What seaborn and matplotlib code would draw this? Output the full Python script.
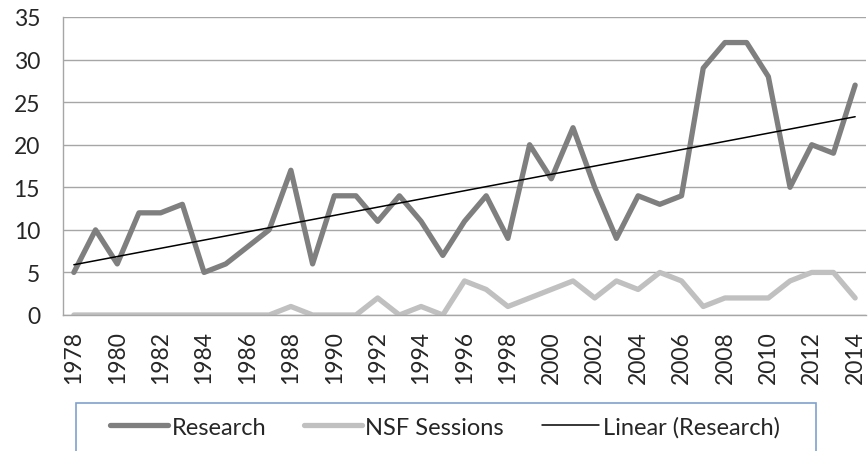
import numpy as np
import pandas as pd
import matplotlib
matplotlib.use("Agg")
import matplotlib.pyplot as plt
from matplotlib.patches import Rectangle
import seaborn as sns

# =========================
# dados
# =========================
anos = list(range(1978, 2015))

research = [5, 10, 6, 12, 12, 13, 5, 6, 8, 10,
            17, 6, 14, 14, 11, 14, 11, 7, 11, 14,
            9, 20, 16, 22, 15, 9, 14, 13, 14, 29,
            32, 32, 28, 15, 20, 19, 27]

nsf_sessions = [0, 0, 0, 0, 0, 0, 0, 0, 0, 0,
                1, 0, 0, 0, 2, 0, 1, 0, 4, 3,
                1, 2, 3, 4, 2, 4, 3, 5, 4, 1,
                2, 2, 2, 4, 5, 5, 2]

yticks = [0, 5, 10, 15, 20, 25, 30, 35]

df = pd.DataFrame({
    "idx": np.arange(len(anos)),
    "ano": anos,
    "Research": research,
    "NSF Sessions": nsf_sessions,
})

# tendencia linear (Research)
coef = np.polyfit(df["idx"], df["Research"], 1)
df["Linear (Research)"] = np.polyval(coef, df["idx"])

# =========================
# estilo
# =========================
sns.set_style("white")
plt.rcParams["font.family"] = ["Lato", "DejaVu Sans"]

cinza_grade = "#a6a6a6"

fig = plt.figure(figsize=(8.68, 4.52), dpi=100)
ax = fig.add_axes([63 / 868, 136 / 452, 803 / 868, 298 / 452])

sns.lineplot(data=df, x="idx", y="Research", ax=ax, color="#7f7f7f",
             linewidth=3.8, label="Research", legend=False)
sns.lineplot(data=df, x="idx", y="NSF Sessions", ax=ax, color="#c0c0c0",
             linewidth=3.8, label="NSF Sessions", legend=False)
sns.lineplot(data=df, x="idx", y="Linear (Research)", ax=ax, color="black",
             linewidth=1.1, label="Linear (Research)", legend=False)

# =========================
# eixos
# =========================
ax.set_xlim(-0.5, len(anos) - 0.5)
ax.set_ylim(0, 35)
ax.set_yticks(yticks)
ax.set_yticklabels([str(v) for v in yticks], fontsize=16.5)

ax.set_xticks(df["idx"][::2])
ax.set_xticklabels([str(a) for a in anos[::2]], rotation=90, fontsize=16.5)
ax.set_xticks(np.arange(-0.5, len(anos), 1), minor=True)
ax.tick_params(axis="x", which="major", length=0, pad=11)
ax.tick_params(axis="x", which="minor", length=5.5, color=cinza_grade, width=1)
ax.tick_params(axis="y", length=5.5, color=cinza_grade, width=1, pad=11)

ax.set_xlabel("")
ax.set_ylabel("")

ax.grid(axis="y", color=cinza_grade, linewidth=1)
ax.set_axisbelow(True)
for lado in ["top", "right"]:
    ax.spines[lado].set_visible(False)
for lado in ["left", "bottom"]:
    ax.spines[lado].set_color(cinza_grade)
    ax.spines[lado].set_linewidth(1)

# =========================
# legenda
# =========================
fig.patches.append(Rectangle((76 / 868, -0.05), 740 / 868, 0.05 + 48 / 452,
                             transform=fig.transFigure, fill=False,
                             edgecolor="#7fa1d0", linewidth=1.2))

handles, labels = ax.get_legend_handles_labels()
fig.legend(handles, labels, loc="center left",
           bbox_to_anchor=(110 / 868, 1 - 428 / 452),
           ncol=3, frameon=False, fontsize=17,
           handlelength=2.45, handletextpad=0.15, columnspacing=1.6,
           borderpad=0, borderaxespad=0)

plt.savefig("out.png", dpi=100)
